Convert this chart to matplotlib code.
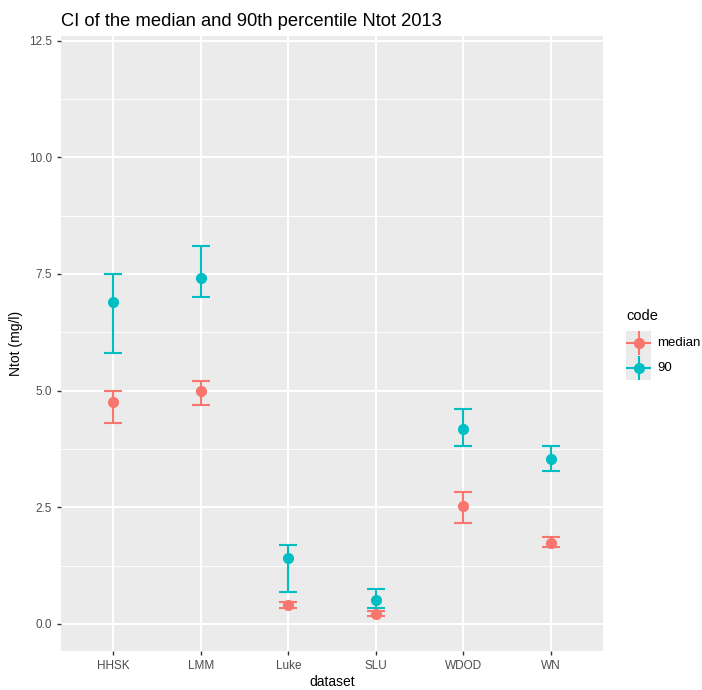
import numpy as np
import matplotlib
matplotlib.use("Agg")
import matplotlib.pyplot as plt
from matplotlib.lines import Line2D
from matplotlib.patches import Rectangle
from matplotlib.transforms import Affine2D

plt.rcParams['font.family'] = ['Liberation Sans', 'DejaVu Sans']

# data
datasets = ["HHSK", "LMM", "Luke", "SLU", "WDOD", "WN"]
med = [4.76, 5.00, 0.41, 0.21, 2.52, 1.74]
med_lo = [4.31, 4.70, 0.35, 0.16, 2.16, 1.65]
med_hi = [5.00, 5.21, 0.47, 0.27, 2.82, 1.87]
p90 = [6.90, 7.42, 1.41, 0.51, 4.17, 3.54]
p90_lo = [5.81, 7.01, 0.68, 0.35, 3.82, 3.28]
p90_hi = [7.50, 8.10, 1.70, 0.74, 4.60, 3.81]
yticks = [0.0, 2.5, 5.0, 7.5, 10.0, 12.5]
codes = ["median", "90"]

c_med = "#F8766D"
c_90 = "#00BFC4"

W, H = 702, 690
fig = plt.figure(figsize=(W/100, H/100), dpi=100)
ax = fig.add_axes([61/W, 1-651/H, 542/W, 615/H])
ax.set_facecolor("#EBEBEB")
for s in ax.spines.values():
    s.set_visible(False)

x = np.arange(1, len(datasets)+1)

# grid
for v in x:
    ax.axvline(v, color="white", lw=1.5, zorder=0)
for v in yticks:
    ax.axhline(v, color="white", lw=1.5, zorder=0)
for v in np.arange(1.25, 12.5, 2.5):
    ax.axhline(v, color="white", lw=0.7, zorder=0)

def draw(vals, lo, hi, col):
    v = np.array(vals)
    ax.errorbar(x, v, yerr=[v - np.array(lo), np.array(hi) - v], fmt="none",
                ecolor=col, elinewidth=1.5, capsize=6.7, capthick=1.5, zorder=2)
    ax.plot(x, v, "o", color=col, ms=7, zorder=3)

draw(med, med_lo, med_hi, c_med)
draw(p90, p90_lo, p90_hi, c_90)

ax.set_xlim(0.4, 6.6)
ax.set_ylim(-0.58, 12.6)
ax.set_xticks(x)
ax.set_xticklabels(datasets)
ax.set_yticks(yticks)
ax.set_yticklabels(["%.1f" % t for t in yticks])
ax.tick_params(colors="#333333", labelcolor="#4D4D4D", labelsize=8.5, length=3, width=1)
ax.set_xlabel("dataset", fontsize=10, labelpad=2)
ax.set_ylabel("Ntot (mg/l)", fontsize=10, labelpad=4)
ax.set_title("CI of the median and 90th percentile Ntot 2013", loc="left", fontsize=13.2, pad=7)

# legend, drawn by hand in pixel coords (top-left origin)
px = Affine2D().scale(1/W, -1/H).translate(0, 1) + fig.transFigure
fig.text(626/W, 1-316/H, "code", fontsize=10.5, va="center", ha="left")
fig.patches.append(Rectangle((626, 331), 25, 49, transform=px,
                             facecolor="#EBEBEB", edgecolor="none"))
for i, (lab, col) in enumerate(zip(codes, [c_med, c_90])):
    cy = 343 + i*25
    fig.lines.append(Line2D([627, 650], [cy, cy], transform=px, color=col, lw=1.5))
    fig.lines.append(Line2D([638.5, 638.5], [cy-11, cy+11], transform=px, color=col, lw=1.5))
    fig.lines.append(Line2D([638.5], [cy], transform=px, color=col, marker="o", ms=7, lw=0))
    fig.text(657/W, 1-cy/H, lab, fontsize=9.5, va="center", ha="left")

fig.savefig("out.png", dpi=100)
